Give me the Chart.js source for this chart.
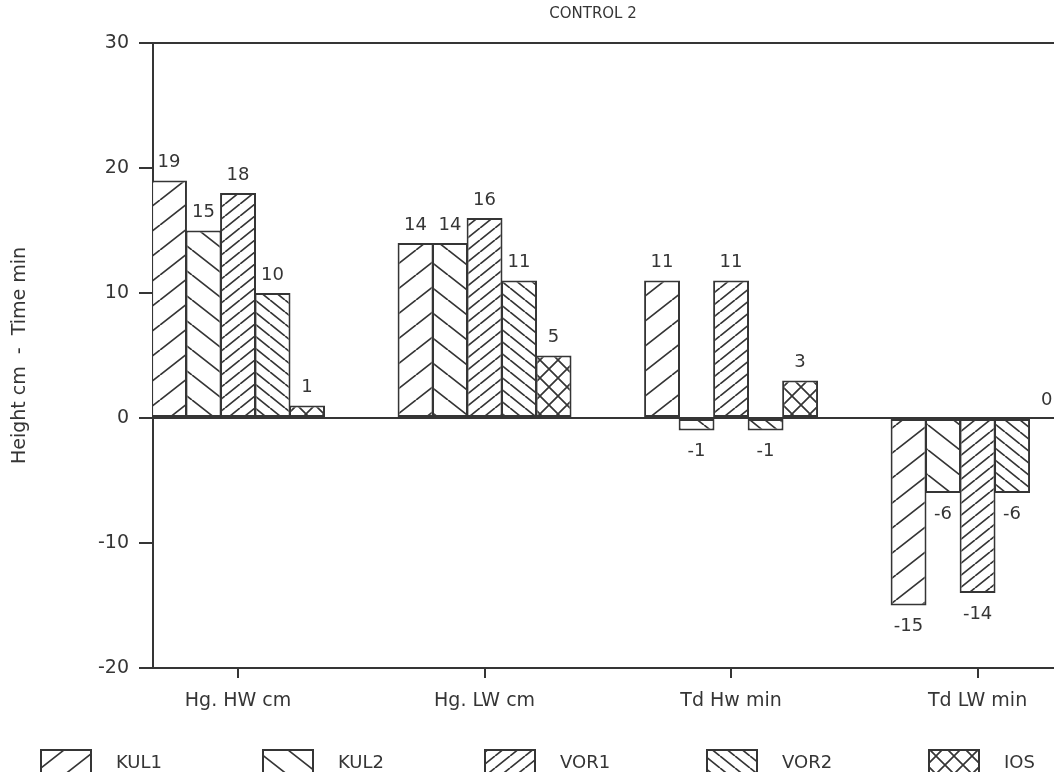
<!DOCTYPE html>
<html>
<head>
<meta charset="utf-8">
<script src="https://cdn.jsdelivr.net/npm/chart.js@4.4.0/dist/chart.umd.min.js"></script>
<style>
html, body { margin: 0; padding: 0; background: #fff; overflow: hidden; }
canvas { display: block; }
</style>
</head>
<body>
<canvas id="chart" width="1054" height="772"></canvas>
<script>
const categories = ["Hg. HW cm", "Hg. LW cm", "Td Hw min", "Td LW min"];
const seriesNames = ["KUL1", "KUL2", "VOR1", "VOR2", "IOS"];
const kul1 = [19, 14, 11, -15];
const kul2 = [15, 14, -1, -6];
const vor1 = [18, 16, 11, -14];
const vor2 = [10, 11, -1, -6];
const ios = [1, 5, 3, 0];
const yTicks = [-20, -10, 0, 10, 20, 30];

const seriesValues = [kul1, kul2, vor1, vor2, ios];
const ink = "#353535";
const family = "'DejaVu Sans', sans-serif";

// hatch tiles, lines run corner to corner so the tiling is seamless
function hatch(kind, w, h) {
	const c = document.createElement("canvas");
	c.width = w;
	c.height = h;
	const g = c.getContext("2d");
	g.fillStyle = "#fff";
	g.fillRect(0, 0, w, h);
	g.strokeStyle = ink;
	g.lineWidth = 1.7;
	g.beginPath();
	for (const dx of [-w, 0, w]) {
		if (kind !== "\\") { g.moveTo(dx, h); g.lineTo(dx + w, 0); }
		if (kind !== "/") { g.moveTo(dx, 0); g.lineTo(dx + w, h); }
	}
	g.stroke();
	return g.createPattern(c, "repeat");
}

const fills = [
	hatch("/", 32, 25),
	hatch("\\", 32, 25),
	hatch("/", 15, 12),
	hatch("\\", 15, 12),
	hatch("x", 18, 18)
];

Chart.defaults.font.family = family;
Chart.defaults.color = ink;

const valueLabels = {
	id: "valueLabels",
	afterDatasetsDraw(chart) {
		const ctx = chart.ctx;
		ctx.save();
		ctx.font = "18px " + family;
		ctx.fillStyle = ink;
		ctx.textAlign = "center";
		ctx.textBaseline = "middle";
		chart.data.datasets.forEach((ds, k) => {
			chart.getDatasetMeta(k).data.forEach((bar, i) => {
				const v = seriesValues[k][i];
				const y = v < 0 ? bar.y + 21 : bar.y - 18;
				ctx.fillText(String(v), bar.x, y);
			});
		});
		ctx.restore();
	}
};

const plotterLegend = {
	id: "plotterLegend",
	afterDraw(chart) {
		const ctx = chart.ctx;
		ctx.save();
		// title
		ctx.font = "15px " + family;
		ctx.fillStyle = ink;
		ctx.textAlign = "center";
		ctx.textBaseline = "middle";
		ctx.fillText("CONTROL 2", 593, 14);
		// legend row at the bottom
		ctx.font = "18px " + family;
		ctx.textAlign = "left";
		chart.data.datasets.forEach((ds, k) => {
			const x = 41 + 222 * k;
			ctx.fillStyle = ds.backgroundColor;
			ctx.fillRect(x, 750, 50, 30);
			ctx.strokeStyle = ink;
			ctx.lineWidth = 2;
			ctx.strokeRect(x, 750, 50, 30);
			ctx.fillStyle = ink;
			ctx.fillText(ds.label, x + 75, 763);
		});
		ctx.restore();
	}
};

new Chart(document.getElementById("chart"), {
	type: "bar",
	data: {
		datasets: seriesNames.map((name, k) => ({
			label: name,
			data: seriesValues[k].map((v, i) => ({ x: i, y: v })),
			backgroundColor: fills[k],
			borderColor: ink,
			borderWidth: 2,
			borderSkipped: false,
			categoryPercentage: 0.7,
			barPercentage: 1.04
		}))
	},
	options: {
		responsive: false,
		animation: false,
		devicePixelRatio: 1,
		layout: { padding: { top: 43, right: 0, bottom: 0, left: 0 } },
		plugins: {
			legend: { display: false },
			tooltip: { enabled: false }
		},
		scales: {
			x: {
				type: "linear",
				min: -0.345,
				max: 3.31,
				offset: false,
				afterFit: s => { s.height = 104; },
				afterBuildTicks: s => { s.ticks = categories.map((c, i) => ({ value: i })); },
				border: { color: ink, width: 2 },
				grid: { drawOnChartArea: false, offset: false, tickLength: 10, tickColor: ink, lineWidth: 2 },
				ticks: {
					color: ink,
					font: { size: 19 },
					padding: 12,
					autoSkip: false,
					maxRotation: 0,
					callback: v => categories[v]
				}
			},
			y: {
				min: -20,
				max: 30,
				afterFit: s => { s.width = 153; },
				afterBuildTicks: s => { s.ticks = yTicks.map(v => ({ value: v })); },
				border: { color: ink, width: 2 },
				grid: {
					color: c => (c.tick && (c.tick.value === 0 || c.tick.value === 30)) ? ink : "rgba(0,0,0,0)",
					tickColor: ink,
					tickLength: 14,
					lineWidth: 2
				},
				ticks: { color: ink, font: { size: 19 }, padding: 10 },
				title: {
					display: true,
					text: "Height cm  -  Time min",
					color: ink,
					font: { size: 19 },
					padding: { top: 9, bottom: 0 }
				}
			}
		}
	},
	plugins: [valueLabels, plotterLegend]
});
</script>
</body>
</html>
